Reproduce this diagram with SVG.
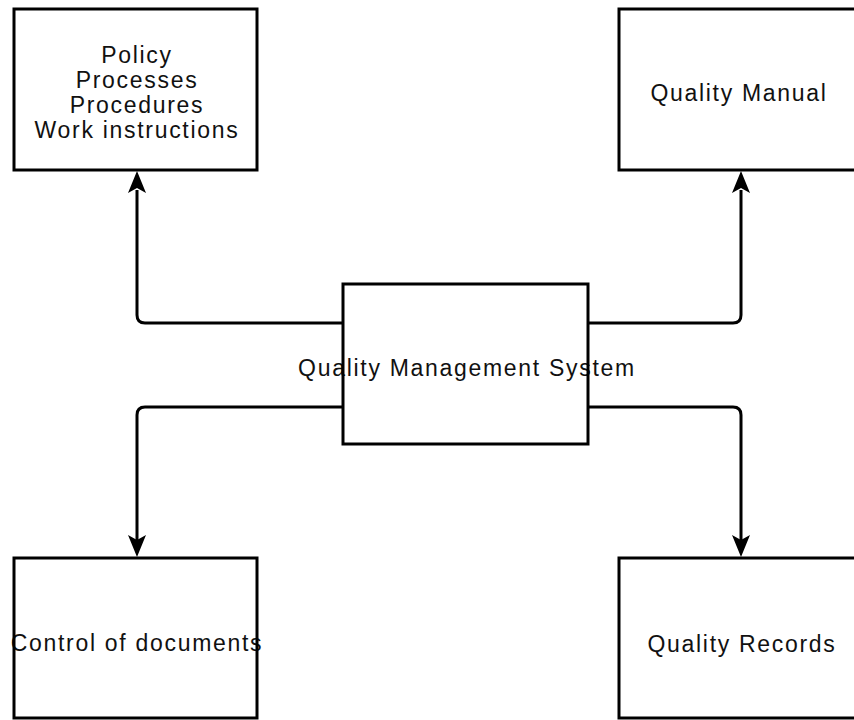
<svg xmlns="http://www.w3.org/2000/svg" width="854" height="720" viewBox="0 0 854 720">
<defs>
<style>
.box{fill:#fff;stroke:none}
.border{fill:none;stroke:#000;stroke-width:3}
.lbl{font-family:"Liberation Sans",Arial,sans-serif;font-size:23px;letter-spacing:1.7px;fill:#111;text-anchor:middle}
.conn{fill:none;stroke:#000;stroke-width:3}
.head{fill:#000;stroke:none}
</style>
</defs>
<rect width="854" height="720" fill="#fff"/>
<g id="connectors">
<path class="conn" d="M343 323 H145 Q137 323 137 315 V190"/>
<path class="conn" d="M588 323 H733 Q741 323 741 315 V190"/>
<path class="conn" d="M343 407 H145 Q137 407 137 415 V540"/>
<path class="conn" d="M588 407 H733 Q741 407 741 415 V540"/>
<path class="head" d="M137 171 L146 193 L137 188 L128 193 Z"/>
<path class="head" d="M741 171 L750 193 L741 188 L732 193 Z"/>
<path class="head" d="M137 557 L146 535 L137 540 L128 535 Z"/>
<path class="head" d="M741 557 L750 535 L741 540 L732 535 Z"/>
</g>
<g id="policy">
<rect class="box" x="14" y="9" width="243" height="161"/>
<text class="lbl" x="137" y="63">Policy</text>
<text class="lbl" x="137" y="88">Processes</text>
<text class="lbl" x="137" y="113">Procedures</text>
<text class="lbl" x="137" y="138">Work instructions</text>
<rect class="border" x="14" y="9" width="243" height="161"/>
</g>
<g id="manual">
<rect class="box" x="619" y="9" width="243" height="161"/>
<text class="lbl" x="739" y="101">Quality Manual</text>
<rect class="border" x="619" y="9" width="243" height="161"/>
</g>
<g id="qms">
<rect class="box" x="343" y="284" width="245" height="160"/>
<text class="lbl" x="467" y="376">Quality Management System</text>
<rect class="border" x="343" y="284" width="245" height="160"/>
</g>
<g id="control">
<rect class="box" x="14" y="558" width="243" height="160"/>
<text class="lbl" x="137" y="651">Control of documents</text>
<rect class="border" x="14" y="558" width="243" height="160"/>
</g>
<g id="records">
<rect class="box" x="619" y="558" width="243" height="160"/>
<text class="lbl" x="742" y="652">Quality Records</text>
<rect class="border" x="619" y="558" width="243" height="160"/>
</g>
</svg>
